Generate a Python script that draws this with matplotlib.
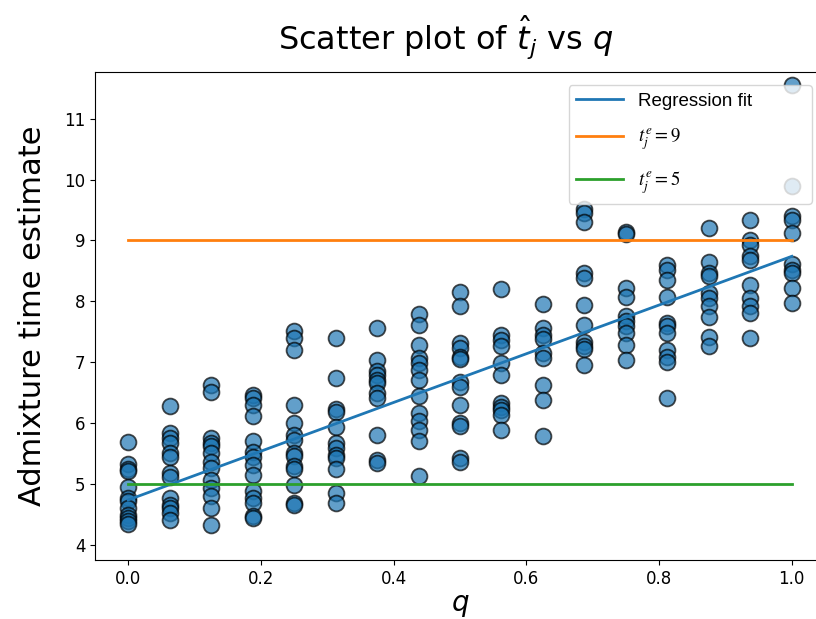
import numpy as np
import matplotlib
matplotlib.use("Agg")
import matplotlib.pyplot as plt
from matplotlib.font_manager import FontProperties

# q values: 17 levels, k/16
q_levels = [k / 16 for k in range(17)]

# admixture time estimates per q level
t_hat = [
    [5.69, 5.33, 5.25, 5.22, 4.95, 4.77, 4.72, 4.60, 4.50, 4.45, 4.40, 4.35],
    [6.28, 5.84, 5.75, 5.67, 5.51, 5.45, 5.19, 5.12, 4.77, 4.66, 4.60, 4.52, 4.41],
    [6.62, 6.52, 5.76, 5.68, 5.62, 5.51, 5.37, 5.26, 5.07, 4.93, 4.81, 4.60, 4.32],
    [6.47, 6.41, 6.30, 6.12, 5.70, 5.53, 5.45, 5.31, 5.15, 4.88, 4.77, 4.69, 4.47, 4.44],
    [7.51, 7.40, 7.20, 6.30, 6.01, 5.81, 5.73, 5.51, 5.46, 5.30, 5.24, 4.99, 4.69, 4.66],
    [7.40, 6.74, 6.24, 6.19, 5.94, 5.67, 5.59, 5.48, 5.42, 5.24, 4.85, 4.69],
    [7.56, 7.04, 6.85, 6.79, 6.71, 6.66, 6.49, 6.41, 5.81, 5.40, 5.34],
    [7.79, 7.61, 7.29, 7.07, 6.99, 6.88, 6.71, 6.44, 6.16, 6.03, 5.89, 5.70, 5.14],
    [8.15, 7.92, 7.31, 7.23, 7.09, 7.05, 6.68, 6.60, 6.30, 6.00, 5.95, 5.42, 5.36],
    [8.20, 7.45, 7.37, 7.27, 6.99, 6.79, 6.33, 6.27, 6.21, 6.14, 5.88],
    [7.96, 7.57, 7.45, 7.38, 7.15, 7.07, 6.63, 6.38, 5.79],
    [9.52, 9.45, 9.31, 8.47, 8.38, 7.94, 7.61, 7.34, 7.27, 7.22, 6.96],
    [9.14, 9.11, 8.22, 8.08, 7.76, 7.67, 7.59, 7.48, 7.29, 7.04],
    [8.59, 8.52, 8.35, 8.08, 7.65, 7.59, 7.48, 7.20, 7.09, 7.01, 6.42],
    [9.20, 8.64, 8.46, 8.41, 8.14, 8.05, 7.92, 7.75, 7.42, 7.27],
    [9.33, 9.01, 8.93, 8.74, 8.68, 8.27, 8.05, 7.92, 7.81, 7.40],
    [11.55, 9.90, 9.40, 9.34, 9.12, 8.62, 8.52, 8.46, 8.22, 7.97],
]

# regression fit
fit_intercept = 4.74
fit_slope = 4.00

t_e_high = 9
t_e_low = 5

q = np.concatenate([[ql] * len(v) for ql, v in zip(q_levels, t_hat)])
t = np.concatenate(t_hat)

fig = plt.figure(figsize=(8.16, 6.19), dpi=100)
# axes runs slightly past the right edge, like the cropped original
ax = fig.add_axes([0.1164, 0.095, 0.8946, 0.789])
ax.spines['right'].set_visible(False)

ax.scatter(q, t, s=130, color='tab:blue', alpha=0.7,
           edgecolors='black', linewidths=1.3)

qs = np.array(q_levels)
ax.plot(qs, fit_intercept + fit_slope * qs, color='tab:blue',
        linewidth=2, label='Regression fit')
ax.plot(qs, [t_e_high] * len(qs), color='tab:orange', linewidth=2,
        label=r'$t_j^e = 9$')
ax.plot(qs, [t_e_low] * len(qs), color='tab:green', linewidth=2,
        label=r'$t_j^e = 5$')

ax.set_xlim(-0.05, 1.05)
ax.set_ylim(3.75, 11.77)
ax.set_xticks([0.0, 0.2, 0.4, 0.6, 0.8, 1.0])
ax.set_yticks(range(4, 12))
ax.tick_params(labelsize=12)

ax.set_xlabel(r'$q$', fontsize=20, labelpad=2)
ax.set_ylabel('Admixture time estimate', fontsize=22, labelpad=12)
ax.set_title(r'Scatter plot of $\hat{t}_j$ vs $q$', fontsize=23, pad=16,
             x=0.48)

leg_font = FontProperties(family='Liberation Sans', size=13.5,
                          math_fontfamily='stix')
ax.legend(loc='upper left', bbox_to_anchor=(0.649, 0.0, 0.333, 0.973),
          mode='expand', borderaxespad=0, prop=leg_font,
          labelspacing=0.9, handlelength=2.5)

fig.savefig('out.png', dpi=100)
